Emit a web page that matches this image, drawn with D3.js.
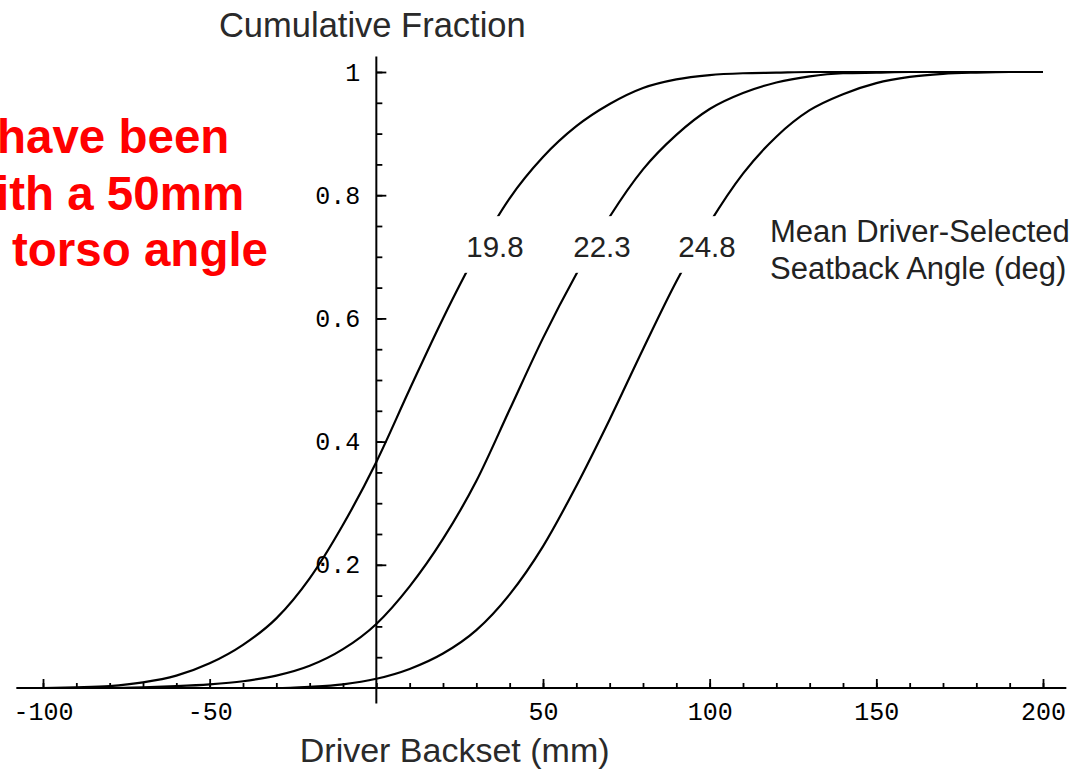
<!DOCTYPE html>
<html>
<head>
<meta charset="utf-8">
<script src="https://cdn.jsdelivr.net/npm/d3@7"></script>
<style>
	html, body { margin: 0; padding: 0; background: #fff; }
	svg { display: block; }
</style>
</head>
<body>
<div id="chart"></div>
<script>
// backset positions the curves were read at (mm)
const backsetMm = [-100, -90, -80, -70, -60, -50, -40, -30, -20, -10, 0, 10, 20, 30, 40, 50,
	60, 70, 80, 90, 100, 110, 120, 130, 140, 150, 160, 170, 180, 190, 200];

// cumulative fraction for each mean driver-selected seatback angle
const fraction198 = [0, 0.001, 0.003, 0.009, 0.02, 0.04, 0.07, 0.113, 0.178, 0.265, 0.367, 0.485,
	0.6, 0.705, 0.795, 0.862, 0.912, 0.948, 0.974, 0.988, 0.995, 0.998, 0.999, 1, 1, 1, 1, 1, 1, 1, 1];
const fraction223 = [0, 0, 0, 0.001, 0.003, 0.006, 0.011, 0.02, 0.036, 0.063, 0.104, 0.165,
	0.242, 0.336, 0.452, 0.568, 0.672, 0.765, 0.842, 0.898, 0.94, 0.966, 0.983, 0.993, 0.998, 0.999, 1, 1, 1, 1, 1];
const fraction248 = [0, 0, 0, 0, 0, 0, 0, 0, 0.002, 0.006, 0.015, 0.031,
	0.056, 0.094, 0.152, 0.23, 0.328, 0.436, 0.55, 0.66, 0.755, 0.835, 0.895, 0.938, 0.964, 0.982, 0.992, 0.997, 0.999, 1, 1];

const seatbackAngles = ['19.8', '22.3', '24.8'];
const labelBackset = [35.6, 67.7, 99.2];
const labelFraction = 0.70;
const labelGap = [0.674, 0.766];

const xTickValues = [-100, -50, 50, 100, 150, 200];
const yTickValues = [0.2, 0.4, 0.6, 0.8, 1];
const xAxisExtent = [-108, 207];
const yAxisExtent = [-0.025, 1.025];

const noteLines = ['have been', 'ith a 50mm', 'torso angle'];

const series = [fraction198, fraction223, fraction248].map((values, i) => ({
	angle: seatbackAngles[i],
	labelX: labelBackset[i],
	points: backsetMm.map((x, j) => ({ x: x, y: values[j] }))
}));

let dimensions = {
	width: 1073,
	height: 770,
	margins: {
		top: 72,
		right: 30,
		bottom: 82,
		left: 43
	}
};

dimensions.boundedWidth = dimensions.width
	- dimensions.margins.left
	- dimensions.margins.right;

dimensions.boundedHeight = dimensions.height
	- dimensions.margins.top
	- dimensions.margins.bottom;

const svg = d3.select('#chart')
	.append('svg')
		.attr('width', dimensions.width)
		.attr('height', dimensions.height);

// red note text, cut off at the left edge as in the source slide
svg.append('g')
	.selectAll('text')
	.data(noteLines)
	.join('text')
		.attr('x', (d, i) => [-3, -4, 12][i])
		.attr('y', (d, i) => [153, 210, 266][i])
		.attr('fill', '#ff0000')
		.style('font-family', '"Liberation Sans", Arial, sans-serif')
		.style('font-weight', 'bold')
		.style('font-size', '47.5px')
		.text(d => d);

const bounds = svg.append('g')
	.attr('transform', `translate(${dimensions.margins.left}, ${dimensions.margins.top})`);

const xScale = d3.scaleLinear()
	.domain([-100, 200])
	.range([0, dimensions.boundedWidth]);

const yScale = d3.scaleLinear()
	.domain([0, 1])
	.range([dimensions.boundedHeight, 0]);

// curves
const lineGenerator = d3.line()
	.x(d => xScale(d.x))
	.y(d => yScale(d.y))
	.curve(d3.curveMonotoneX);

bounds.append('g')
	.selectAll('path')
	.data(series)
	.join('path')
		.attr('d', d => lineGenerator(d.points))
		.attr('fill', 'none')
		.attr('stroke', '#000')
		.attr('stroke-width', 2.2);

// axes
const tickFont = '"Liberation Mono", "Courier New", monospace';

const xMinor = bounds.append('g')
	.attr('transform', `translate(0, ${yScale(0)})`)
	.call(d3.axisBottom(xScale)
		.tickValues(d3.range(-100, 201, 10))
		.tickSizeInner(-5)
		.tickSizeOuter(0)
		.tickFormat(''));
xMinor.select('.domain').remove();

const xAxis = bounds.append('g')
	.attr('transform', `translate(0, ${yScale(0)})`)
	.call(d3.axisBottom(xScale)
		.tickValues(xTickValues)
		.tickSizeInner(-9)
		.tickSizeOuter(0)
		.tickPadding(14)
		.tickFormat(d => String(d)));
xAxis.select('.domain').remove();
xAxis.attr('font-family', tickFont).attr('font-size', 25);

const yMinor = bounds.append('g')
	.attr('transform', `translate(${xScale(0)}, 0)`)
	.call(d3.axisLeft(yScale)
		.tickValues(d3.range(0.05, 1.001, 0.05))
		.tickSizeInner(-6)
		.tickSizeOuter(0)
		.tickFormat(''));
yMinor.select('.domain').remove();

const yAxis = bounds.append('g')
	.attr('transform', `translate(${xScale(0)}, 0)`)
	.call(d3.axisLeft(yScale)
		.tickValues(yTickValues)
		.tickSizeInner(-10)
		.tickSizeOuter(0)
		.tickPadding(16)
		.tickFormat(d => String(d)));
yAxis.select('.domain').remove();
yAxis.attr('font-family', tickFont).attr('font-size', 25);

bounds.selectAll('.tick line').attr('stroke-width', 1.8);

bounds.append('line')
	.attr('x1', xScale(xAxisExtent[0]))
	.attr('x2', xScale(xAxisExtent[1]))
	.attr('y1', yScale(0))
	.attr('y2', yScale(0))
	.attr('stroke', '#000')
	.attr('stroke-width', 2);

bounds.append('line')
	.attr('x1', xScale(0))
	.attr('x2', xScale(0))
	.attr('y1', yScale(yAxisExtent[0]))
	.attr('y2', yScale(yAxisExtent[1]))
	.attr('stroke', '#000')
	.attr('stroke-width', 2);

// curve labels sit in a gap in each curve
const labels = bounds.append('g')
	.selectAll('g')
	.data(series)
	.join('g');

labels.append('rect')
	.attr('x', d => xScale(d.labelX) - 34)
	.attr('y', yScale(labelGap[1]))
	.attr('width', 68)
	.attr('height', yScale(labelGap[0]) - yScale(labelGap[1]))
	.attr('fill', '#fff');

labels.append('text')
	.attr('x', d => xScale(d.labelX))
	.attr('y', yScale(labelFraction))
	.attr('text-anchor', 'middle')
	.attr('fill', '#222')
	.style('font-family', '"Liberation Sans", Arial, sans-serif')
	.style('font-size', '29.5px')
	.text(d => d.angle);

const textFont = '"Liberation Sans", Arial, sans-serif';

bounds.append('text')
	.attr('x', xScale(0) - 4)
	.attr('y', -35)
	.attr('text-anchor', 'middle')
	.attr('fill', '#2a2a2a')
	.style('font-family', textFont)
	.style('font-size', '34.5px')
	.text('Cumulative Fraction');

bounds.append('text')
	.attr('x', xScale(23.5))
	.attr('y', dimensions.boundedHeight + 73.5)
	.attr('text-anchor', 'middle')
	.attr('fill', '#2a2a2a')
	.style('font-family', textFont)
	.style('font-size', '34px')
	.text('Driver Backset (mm)');

bounds.append('text')
	.attr('x', 727)
	.attr('y', 170)
	.attr('fill', '#222')
	.style('font-family', textFont)
	.style('font-size', '31px')
	.selectAll('tspan')
	.data(['Mean Driver-Selected', 'Seatback Angle (deg)'])
	.join('tspan')
		.attr('x', 727)
		.attr('dy', (d, i) => i === 0 ? 0 : 37)
		.text(d => d);
</script>
</body>
</html>
